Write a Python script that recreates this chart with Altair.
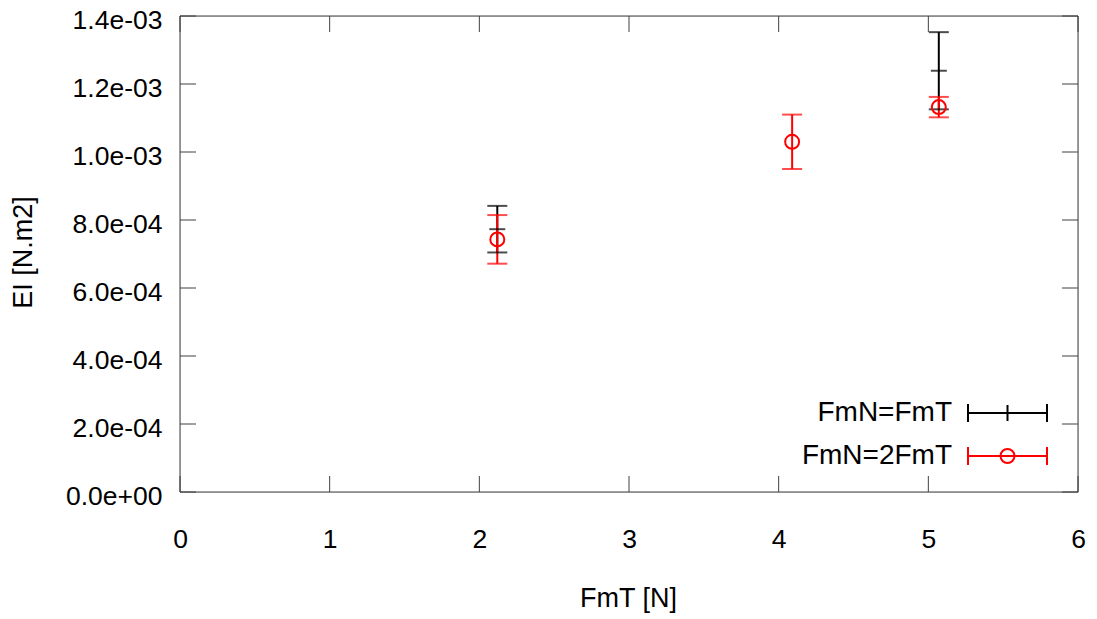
import altair as alt
import pandas as pd

# ---- data ----
series_names = ["FmN=FmT", "FmN=2FmT"]
series_colors = ["#000000", "#ff0000"]

black_x = [2.12, 5.07]
black_y = [0.000773, 0.001239]
black_err = [0.0000685, 0.0001135]

red_x = [2.12, 4.09, 5.07]
red_y = [0.000743, 0.001030, 0.001132]
red_err = [0.0000715, 0.0000800, 0.0000300]

x_ticks = [0, 1, 2, 3, 4, 5, 6]
y_ticks = [0.0, 0.0002, 0.0004, 0.0006, 0.0008, 0.0010, 0.0012, 0.0014]

x_title = "FmT [N]"
y_title = "EI [N.m2]"

# ---- layout / style ----
W, H = 898, 476
FRAME = "#404040"
FONT = "Liberation Sans"
TICK_LEN = 16

rows = []
for name, xs_, ys_, es_ in [(series_names[0], black_x, black_y, black_err),
                            (series_names[1], red_x, red_y, red_err)]:
    for xv, yv, ev in zip(xs_, ys_, es_):
        rows.append({"series": name, "x": xv, "y": yv, "lo": yv - ev, "hi": yv + ev})
df = pd.DataFrame(rows)
xt_df = pd.DataFrame({"x": x_ticks})
yt_df = pd.DataFrame({"lo": y_ticks})

xs = alt.Scale(domain=[0, 6], nice=False, zero=False)
ys = alt.Scale(domain=[0, 0.0014], nice=False, zero=False)
cs = alt.Scale(domain=series_names, range=series_colors)

x_axis = alt.Axis(values=x_ticks, title=x_title, labelFontSize=26.5, labelPadding=47,
                  labelBaseline="middle", titleFontSize=27, titleX=448, titleY=106,
                  titleBaseline="middle", titleAnchor="middle", labelFlush=False,
                  grid=False, domain=False, ticks=False, titleFontWeight="normal")
y_axis = alt.Axis(values=y_ticks, title=y_title, labelFontSize=26.5, labelPadding=18,
                  labelOffset=4.5,
                  labelExpr="replace(replace(format(datum.value, '.1e'), 'e-', 'e-0'), 'e+', 'e+0')",
                  titleFontSize=27, titleX=-157, titleY=236, titleAngle=270,
                  titleBaseline="middle", titleAlign="center", labelFlush=False,
                  grid=False, domain=False, ticks=False, titleFontWeight="normal")

X = alt.X("x:Q", scale=xs, axis=x_axis, title=x_title)
Y = alt.Y("lo:Q", scale=ys, axis=y_axis, title=y_title)
Yhi = alt.Y("hi:Q", scale=ys, axis=y_axis, title=y_title)
Yc = alt.Y("y:Q", scale=ys, axis=y_axis, title=y_title)
C = alt.Color("series:N", scale=cs, legend=None)

base = alt.Chart(df)

bars = base.mark_rule(strokeWidth=2).encode(x=X, y=Y, y2="hi:Q", color=C)
cap_lo = base.mark_tick(orient="horizontal", size=20, thickness=2).encode(x=X, y=Y, color=C)
cap_hi = base.mark_tick(orient="horizontal", size=20, thickness=2).encode(x=X, y=Yhi, color=C)
centers_black = base.transform_filter(alt.datum.series == series_names[0]).mark_tick(
    orient="horizontal", size=16, thickness=2, color=series_colors[0]).encode(x=X, y=Yc)
centers_red = base.transform_filter(alt.datum.series == series_names[1]).mark_point(
    shape="circle", filled=False, size=196, strokeWidth=2, color=series_colors[1], opacity=1
).encode(x=X, y=Yc)

# border frame (drawn as rules so it is crisp and dark)
fr = alt.Chart(pd.DataFrame({"k": [0]}))
frame = [
    fr.mark_rule(color=FRAME, strokeWidth=1).encode(x=alt.value(0), x2=alt.value(W), y=alt.value(0)),
    fr.mark_rule(color=FRAME, strokeWidth=1).encode(x=alt.value(0), x2=alt.value(W), y=alt.value(H)),
    fr.mark_rule(color=FRAME, strokeWidth=1).encode(y=alt.value(0), y2=alt.value(H), x=alt.value(0)),
    fr.mark_rule(color=FRAME, strokeWidth=1).encode(y=alt.value(0), y2=alt.value(H), x=alt.value(W)),
]

# inward ticks on all four sides (gnuplot style)
tick_bottom = alt.Chart(xt_df).mark_rule(color=FRAME, strokeWidth=1).encode(
    x=X, y=alt.value(H), y2=alt.value(H - TICK_LEN))
tick_top = alt.Chart(xt_df).mark_rule(color=FRAME, strokeWidth=1).encode(
    x=X, y=alt.value(0), y2=alt.value(TICK_LEN))
tick_left = alt.Chart(yt_df).mark_rule(color=FRAME, strokeWidth=1).encode(
    y=Y, x=alt.value(0), x2=alt.value(TICK_LEN))
tick_right = alt.Chart(yt_df).mark_rule(color=FRAME, strokeWidth=1).encode(
    y=Y, x=alt.value(W), x2=alt.value(W - TICK_LEN))

# key (bottom right, labels left of samples)
leg_layers = []
leg_rows_y = [397, 440]
lx0, lx1, lxc, ltext = 788, 867, 827.5, 772
for i, name in enumerate(series_names):
    ly = leg_rows_y[i]
    col = series_colors[i]
    ldf = pd.DataFrame({"label": [name]})
    lc = alt.Chart(ldf)
    leg_layers.append(lc.mark_text(align="right", baseline="middle", fontSize=28, font=FONT,
                                   color="#000000").encode(
        x=alt.value(ltext), y=alt.value(ly), text="label:N"))
    leg_layers.append(lc.mark_rule(color=col, strokeWidth=2).encode(
        x=alt.value(lx0), x2=alt.value(lx1), y=alt.value(ly)))
    for cx in (lx0, lx1):
        leg_layers.append(lc.mark_rule(color=col, strokeWidth=2).encode(
            x=alt.value(cx), y=alt.value(ly - 9), y2=alt.value(ly + 9)))
    if i == 0:
        leg_layers.append(lc.mark_rule(color=col, strokeWidth=2).encode(
            x=alt.value(lxc), y=alt.value(ly - 8), y2=alt.value(ly + 8)))
    else:
        leg_layers.append(lc.mark_point(shape="circle", filled=False, size=196, strokeWidth=2,
                                        color=col, opacity=1).encode(
            x=alt.value(lxc), y=alt.value(ly)))

chart = alt.layer(
    bars, cap_lo, cap_hi, centers_black, centers_red,
    *frame, tick_bottom, tick_top, tick_left, tick_right, *leg_layers
).properties(
    width=W, height=H,
    autosize=alt.AutoSizeParams(type="none"),
    padding={"left": 172, "top": 8, "right": 10, "bottom": 122},
).configure_view(
    strokeWidth=0
).configure_axis(
    domain=False, ticks=False, tickSize=0, grid=False,
    labelFont=FONT, titleFont=FONT, labelColor="#000000", titleColor="#000000",
    titleFontWeight="normal",
).configure(background="white")

chart.save("out.html", embed_options={"renderer": "svg", "actions": False})
